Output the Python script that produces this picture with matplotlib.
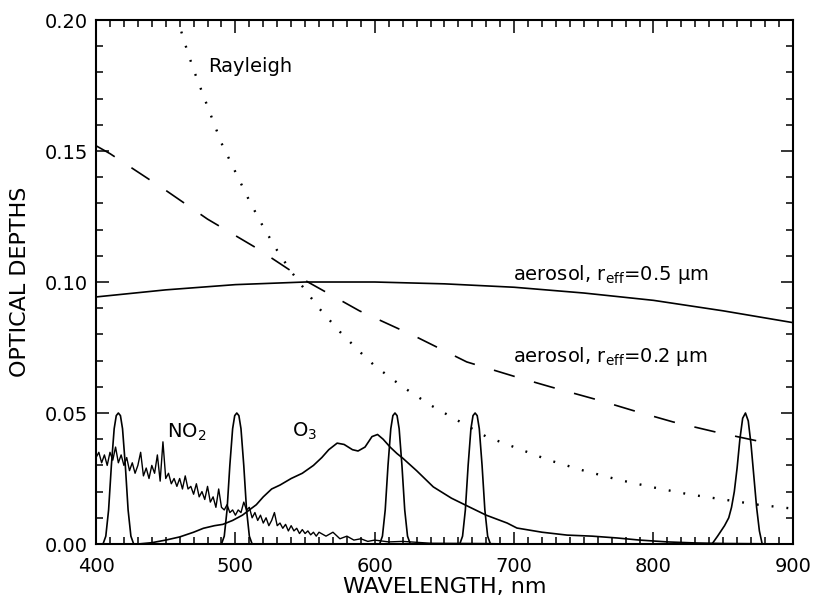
import numpy as np
import matplotlib
matplotlib.use("Agg")
import matplotlib.pyplot as plt
from matplotlib.ticker import MultipleLocator, FormatStrFormatter

# ---------------- data ---------------- #
# Rayleigh optical depth (dotted)
ray_wl = [458, 465, 470, 480, 490, 500, 510, 520, 530, 540, 550, 560, 575, 590,
          600, 620, 640, 660, 680, 700, 725, 750, 775, 800, 825, 850, 875, 900]
ray_tau = [0.201, 0.189, 0.181, 0.167, 0.153, 0.142, 0.131, 0.121, 0.112, 0.104,
           0.097, 0.090, 0.081, 0.073, 0.068, 0.060, 0.053, 0.047, 0.041, 0.037,
           0.032, 0.028, 0.0245, 0.0216, 0.019, 0.017, 0.015, 0.0135]

# aerosol r_eff = 0.2 um (dashed)
aer2_wl = [400, 410, 430, 450, 480, 515, 552, 589, 630, 666, 700, 726, 760, 785, 814, 845, 882]
aer2_tau = [0.152, 0.149, 0.142, 0.135, 0.124, 0.113, 0.100, 0.089, 0.079, 0.0695,
            0.064, 0.060, 0.055, 0.051, 0.0466, 0.0427, 0.0385]

# aerosol r_eff = 0.5 um (solid)
aer5_wl = [400, 450, 500, 550, 600, 650, 700, 750, 800, 850, 900]
aer5_tau = [0.0943, 0.097, 0.099, 0.100, 0.100, 0.0993, 0.098, 0.0958, 0.093, 0.089, 0.0845]

# O3 (Chappuis band)
o3_wl = [430, 440, 450, 460, 470, 477, 485, 491, 498, 505, 510, 515, 520, 526, 532,
         540, 548, 556, 562, 567, 573, 578, 584, 588, 593, 598, 602, 606, 611, 616,
         620, 630, 642, 655, 668, 680, 695, 702, 720, 738, 756, 774, 790, 810, 830,
         850, 900]
o3_tau = [0.0, 0.0005, 0.0015, 0.0027, 0.0045, 0.006, 0.007, 0.0075, 0.009, 0.011,
          0.013, 0.015, 0.018, 0.021, 0.0225, 0.025, 0.027, 0.030, 0.033, 0.036,
          0.0385, 0.038, 0.036, 0.0355, 0.037, 0.041, 0.0418, 0.040, 0.037, 0.0345,
          0.0328, 0.028, 0.0218, 0.0175, 0.0141, 0.011, 0.008, 0.0061, 0.0045,
          0.0034, 0.003, 0.0023, 0.0015, 0.0008, 0.0004, 0.0002, 0.0]

# NO2 (noisy absorption)
no2_wl = list(range(400, 562, 2)) + [565, 570, 575, 580, 585, 590, 595, 600, 610, 620, 640, 680, 700]
no2_tau = [0.033, 0.035, 0.031, 0.034, 0.030, 0.035, 0.032, 0.037, 0.031, 0.034,
           0.030, 0.033, 0.028, 0.031, 0.027, 0.030, 0.035, 0.026, 0.029, 0.025,
           0.030, 0.027, 0.034, 0.024, 0.039, 0.025, 0.027, 0.023, 0.025, 0.022,
           0.025, 0.021, 0.026, 0.021, 0.022, 0.019, 0.023, 0.018, 0.020, 0.017,
           0.022, 0.016, 0.018, 0.014, 0.021, 0.014, 0.013, 0.015, 0.012, 0.013,
           0.011, 0.013, 0.012, 0.016, 0.013, 0.014, 0.010, 0.012, 0.009, 0.011,
           0.008, 0.010, 0.007, 0.009, 0.012, 0.007, 0.008, 0.006, 0.0075, 0.005,
           0.007, 0.005, 0.006, 0.004, 0.0055, 0.004, 0.005, 0.0035, 0.0045, 0.003,
           0.0045,
           0.003, 0.0045, 0.002, 0.003, 0.0015, 0.002, 0.001, 0.0015, 0.0008, 0.001,
           0.0003, 0.0002, 0.0]

# filter bandpasses (scaled to 0.05 peak)
filt_centers = [416, 501, 614.5, 672, 866]
filt_offsets = [-11, -9, -7, -5, -3, -1.5, 0, 1.5, 3, 5, 7, 9, 11]
filt_shape = [0.0, 0.003, 0.013, 0.030, 0.044, 0.049, 0.050, 0.049, 0.044, 0.030, 0.013, 0.003, 0.0]
nir_offsets = [-24, -20, -15, -12, -10, -8, -6, -4, -2, 0, 2, 4, 6, 8, 10, 12]
nir_shape = [0.0, 0.003, 0.007, 0.010, 0.014, 0.020, 0.029, 0.040, 0.048, 0.050,
             0.047, 0.038, 0.026, 0.014, 0.005, 0.0]

# ---------------- plot ---------------- #
plt.rcParams['font.family'] = ['DejaVu Sans']
plt.rcParams['mathtext.default'] = 'regular'

fig = plt.figure(figsize=(8.14, 5.99), dpi=100)
ax = fig.add_axes([0.118, 0.0918, 0.856, 0.8748])

lw = 1.2
ax.plot(ray_wl, ray_tau, color='black', lw=1.7, linestyle=(0, (0.8, 5.5)))
ax.plot(aer2_wl, aer2_tau, color='black', lw=lw, linestyle=(0, (13, 12)))
ax.plot(aer5_wl, aer5_tau, color='black', lw=lw)
ax.plot(o3_wl, o3_tau, color='black', lw=lw)
ax.plot(no2_wl, no2_tau, color='black', lw=1.0)
for c in filt_centers[:4]:
    ax.plot([c + o for o in filt_offsets], filt_shape, color='black', lw=lw)
ax.plot([filt_centers[4] + o for o in nir_offsets], nir_shape, color='black', lw=lw)

fs = 14
ax.text(480.3, 0.1824, "Rayleigh", fontsize=fs, ha='left', va='center')
ax.text(451, 0.0405, "NO$_2$", fontsize=fs, ha='left', va='baseline')
ax.text(540.6, 0.041, "O$_3$", fontsize=fs, ha='left', va='baseline')
ax.text(699, 0.1008, "aerosol, r$_{eff}$=0.5 μm", fontsize=fs, ha='left', va='baseline')
ax.text(699, 0.0696, "aerosol, r$_{eff}$=0.2 μm", fontsize=fs, ha='left', va='baseline')

ax.set_xlim(400, 900)
ax.set_ylim(0, 0.2)
ax.xaxis.set_major_locator(MultipleLocator(100))
ax.xaxis.set_minor_locator(MultipleLocator(10))
ax.yaxis.set_major_locator(MultipleLocator(0.05))
ax.yaxis.set_minor_locator(MultipleLocator(0.01))
ax.yaxis.set_major_formatter(FormatStrFormatter('%.2f'))
ax.tick_params(which='both', direction='in', top=True, right=True, width=1.1,
               labelsize=fs)
ax.tick_params(axis='x', which='both', pad=9)
ax.tick_params(axis='y', which='both', pad=6)
ax.tick_params(which='major', length=9)
ax.tick_params(which='minor', length=5)
for s in ax.spines.values():
    s.set_linewidth(1.5)

ax.set_xlabel("WAVELENGTH, nm", fontsize=16, labelpad=1)
ax.set_ylabel("OPTICAL DEPTHS", fontsize=16, labelpad=10)

fig.savefig("out.png", dpi=100)
